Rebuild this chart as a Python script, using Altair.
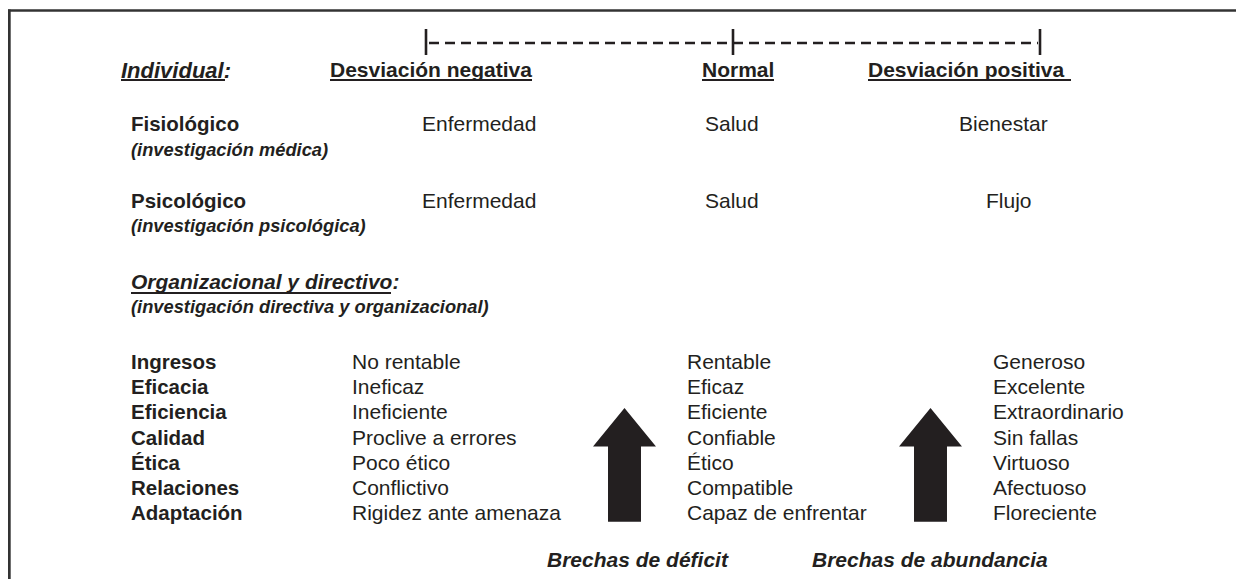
import altair as alt
import pandas as pd

W, H = 1228, 571
FONT = "Liberation Sans"
INK = "#231f20"

# ---------------- content ----------------
header_title = "Individual:"
header_cols = ["Desviación negativa", "Normal", "Desviación positiva"]
ind_rows = ["Fisiológico", "Psicológico"]
ind_notes = ["(investigación médica)", "(investigación psicológica)"]
ind_neg = ["Enfermedad", "Enfermedad"]
ind_norm = ["Salud", "Salud"]
ind_pos = ["Bienestar", "Flujo"]
org_title = "Organizacional y directivo:"
org_note = "(investigación directiva y organizacional)"
org_rows = ["Ingresos", "Eficacia", "Eficiencia", "Calidad", "Ética", "Relaciones", "Adaptación"]
org_neg = ["No rentable", "Ineficaz", "Ineficiente", "Proclive a errores",
           "Poco ético", "Conflictivo", "Rigidez ante amenaza"]
org_norm = ["Rentable", "Eficaz", "Eficiente", "Confiable", "Ético",
            "Compatible", "Capaz de enfrentar"]
org_pos = ["Generoso", "Excelente", "Extraordinario", "Sin fallas",
           "Virtuoso", "Afectuoso", "Floreciente"]
gap_labels = ["Brechas de déficit", "Brechas de abundancia"]

# ---------------- layout (page pixels) ----------------
col_label = 131
col_hdr = [330, 702, 868]
col_ind = [422, 705]
ind_pos_x = [959, 986]
col_org = [352, 687, 993]
y_hdr = 70.5
y_ind = [125, 202]
y_ind_note = [151, 227]
y_org_title = 283
y_org_note = 308
y_org = [363, 388, 413, 438.5, 463.5, 489, 514]
y_gap = 561
gap_x = [547, 812]
arrow_x = [624.5, 930.5]
arrow_y = 464.85
tick_x = [426, 733, 1040]
dash_y = 43

xs = alt.Scale(domain=[8, 8 + W], range=[0, W])
ys = alt.Scale(domain=[8, 8 + H], range=[0, H])
X = alt.X("x:Q", scale=xs, axis=None)
Y = alt.Y("y:Q", scale=ys, axis=None)
X2 = alt.X2("x2")
Y2 = alt.Y2("y2")

hdr_df = pd.DataFrame([(t, x, y_hdr) for t, x in zip(header_cols, col_hdr)],
                      columns=["t", "x", "y"])
lab = [(t, col_label, y) for t, y in zip(ind_rows, y_ind)]
lab += [(t, col_label, y) for t, y in zip(org_rows, y_org)]
lab_df = pd.DataFrame(lab, columns=["t", "x", "y"])

bi = [(org_title, col_label, y_org_title)]
bi += [(t, x, y_gap) for t, x in zip(gap_labels, gap_x)]
bi_df = pd.DataFrame(bi, columns=["t", "x", "y"])
ind_df = pd.DataFrame([(header_title, 121, y_hdr)], columns=["t", "x", "y"])

notes = [(t, col_label, y) for t, y in zip(ind_notes, y_ind_note)]
notes += [(org_note, col_label, y_org_note)]
notes_df = pd.DataFrame(notes, columns=["t", "x", "y"])

reg = []
for i, y in enumerate(y_ind):
    reg.append((ind_neg[i], col_ind[0], y))
    reg.append((ind_norm[i], col_ind[1], y))
    reg.append((ind_pos[i], ind_pos_x[i], y))
for i, y in enumerate(y_org):
    reg.append((org_neg[i], col_org[0], y))
    reg.append((org_norm[i], col_org[1], y))
    reg.append((org_pos[i], col_org[2], y))
reg_df = pd.DataFrame(reg, columns=["t", "x", "y"])

ul = pd.DataFrame([
    (121, 225, y_hdr + 9.5),
    (330, 532, y_hdr + 9.5),
    (702, 774, y_hdr + 9.5),
    (868, 1071, y_hdr + 9.5),
    (131, 391, y_org_title + 10),
], columns=["x", "x2", "y"])

ticks_df = pd.DataFrame({"x": tick_x, "y": [29] * 3, "y2": [55] * 3})
dash_df = pd.DataFrame({"x": [tick_x[0] + 3], "x2": [tick_x[-1] - 2], "y": [dash_y]})
arrows_df = pd.DataFrame({"x": arrow_x, "y": [arrow_y] * 2})
frame_h = pd.DataFrame({"x": [8], "x2": [8 + W], "y": [10.5]})
frame_v = pd.DataFrame({"x": [9.2], "y": [9.5], "y2": [8 + H]})

ARROW = ("M0,-1L0.554,-0.323L0.290,-0.323L0.290,1L-0.290,1L-0.290,-0.323"
         "L-0.554,-0.323Z")


def txt(df, weight, style, size):
    return alt.Chart(df).mark_text(
        align="left", baseline="middle", font=FONT, fontSize=size,
        fontWeight=weight, fontStyle=style, color=INK
    ).encode(x=X, y=Y, text="t:N")


layers = [
    alt.Chart(frame_h).mark_rule(color="#333333", strokeWidth=2.5).encode(x=X, x2=X2, y=Y),
    alt.Chart(frame_v).mark_rule(color="#333333", strokeWidth=3).encode(x=X, y=Y, y2=Y2),
    alt.Chart(dash_df).mark_rule(color=INK, strokeWidth=2.4, strokeDash=[10, 6]).encode(x=X, x2=X2, y=Y),
    alt.Chart(ticks_df).mark_rule(color=INK, strokeWidth=2.6).encode(x=X, y=Y, y2=Y2),
    alt.Chart(ul).mark_rule(color=INK, strokeWidth=2).encode(x=X, x2=X2, y=Y),
    txt(hdr_df, "bold", "normal", 21),
    txt(lab_df, "bold", "normal", 20.5),
    txt(bi_df, "bold", "italic", 21),
    txt(ind_df, "bold", "italic", 22),
    txt(notes_df, "bold", "italic", 18.3),
    txt(reg_df, "normal", "normal", 21),
    alt.Chart(arrows_df).mark_point(
        shape=ARROW, filled=True, size=12928, color=INK, opacity=1, strokeWidth=0
    ).encode(x=X, y=Y),
]

chart = alt.layer(*layers).properties(
    width=W, height=H, padding=0, autosize=alt.AutoSizeParams(type="none"),
    background="white"
).configure_view(stroke=None)

chart.save("out.html", embed_options={"renderer": "svg", "actions": False})
